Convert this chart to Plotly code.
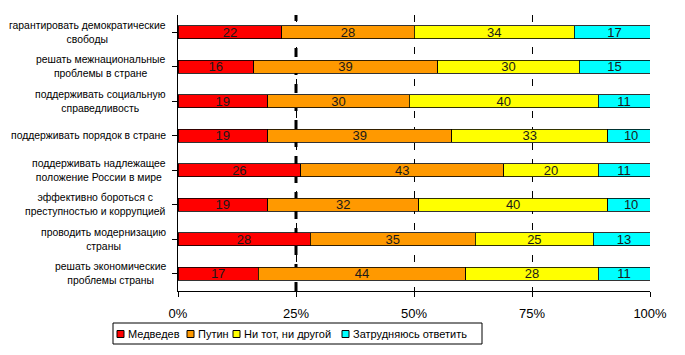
import plotly.graph_objects as go

categories = [
    "гарантировать демократические<br>свободы",
    "решать межнациональные<br>проблемы в стране",
    "поддерживать социальную<br>справедливость",
    "поддерживать порядок в стране",
    "поддерживать надлежащее<br>положение России в мире",
    "эффективно бороться с<br>преступностью и коррупцией",
    "проводить модернизацию<br>страны",
    "решать экономические<br>проблемы страны",
]
medvedev = [22, 16, 19, 19, 26, 19, 28, 17]
putin = [28, 39, 30, 39, 43, 32, 35, 44]
neither = [34, 30, 40, 33, 20, 40, 25, 28]
hard = [17, 15, 11, 10, 11, 10, 13, 11]
series_names = ["Медведев", "Путин", "Ни тот, ни другой", "Затрудняюсь ответить"]
colors = ["#FF0000", "#FF9900", "#FFFF00", "#00FFFF"]
tick_vals = [0, 25, 50, 75, 100]
tick_text = ["0%", "25%", "50%", "75%", "100%"]
ref_line = 25

FONT = "Liberation Sans, Arial, sans-serif"
W, H = 685, 355
PL, PR, PT, PB = 178, 650, 15, 291  # plot area in pixels

def px_x(p):
    return (p - PL) / (PR - PL)

def px_y(p):
    return (PB - p) / (PB - PT)

ypos = list(range(len(categories)))

fig = go.Figure()
for name, vals, col in zip(series_names, [medvedev, putin, neither, hard], colors):
    fig.add_trace(go.Bar(
        y=ypos, x=vals, name=name, orientation="h",
        marker=dict(color=col, line=dict(color="#000000", width=0.8)),
        width=0.38,
        text=[str(v) for v in vals], textposition="inside",
        insidetextanchor="middle", textangle=0, constraintext="none",
        textfont=dict(family=FONT, size=13, color="#1a1a1a"),
        hoverinfo="skip", showlegend=False,
    ))

for i, c in enumerate(categories):
    fig.add_annotation(
        x=-0.021, xref="paper", y=i, yref="y", text=c, showarrow=False,
        xanchor="right", yanchor="middle", align="center",
        font=dict(family=FONT, size=10.4, color="#000000"),
    )

fig.add_shape(type="line", x0=ref_line, x1=ref_line, xref="x", y0=0, y1=1, yref="paper",
              line=dict(color="#000000", width=3, dash="9px,9px"), layer="below")

# custom legend (box, swatches, labels)
fig.add_shape(type="rect", xref="paper", yref="paper",
              x0=px_x(113), x1=px_x(482), y0=px_y(344), y1=px_y(323),
              line=dict(color="#000000", width=1), fillcolor="#FFFFFF")
legend_sq = [117, 187, 233, 342]
for name, col, sx in zip(series_names, colors, legend_sq):
    fig.add_shape(type="rect", xref="paper", yref="paper",
                  x0=px_x(sx), x1=px_x(sx + 7), y0=px_y(337.5), y1=px_y(330.5),
                  line=dict(color="#000000", width=1), fillcolor=col)
    fig.add_annotation(x=px_x(sx + 9), y=px_y(333.5), xref="paper", yref="paper",
                       text=name, showarrow=False, xanchor="left", yanchor="middle",
                       font=dict(family=FONT, size=11, color="#000000"))

fig.update_layout(
    barmode="stack",
    width=W, height=H,
    margin=dict(l=PL, r=W - PR, t=PT, b=H - PB, autoexpand=False),
    plot_bgcolor="#FFFFFF", paper_bgcolor="#FFFFFF",
    font=dict(family=FONT, size=11, color="#000000"),
    showlegend=False,
    xaxis=dict(
        range=[0, 100], tickvals=tick_vals, ticktext=tick_text,
        showgrid=True, gridcolor="#000000", gridwidth=1, griddash="7px,9px",
        showline=True, linecolor="#000000", linewidth=1,
        ticks="outside", ticklen=5, tickcolor="#000000",
        tickfont=dict(family=FONT, size=13), zeroline=False,
        ticklabelstandoff=5, automargin=False,
    ),
    yaxis=dict(
        range=[len(categories) - 0.5, -0.5], tickvals=ypos,
        showticklabels=False, showgrid=False, zeroline=False,
        showline=True, linecolor="#000000", linewidth=1,
        ticks="outside", ticklen=5, tickcolor="#000000", tickson="boundaries",
        automargin=False,
    ),
)

fig.write_html(
    "out.html",
    config={"displayModeBar": False, "staticPlot": True},
    post_script="document.body.style.margin='0px';document.body.style.overflow='hidden';",
)
